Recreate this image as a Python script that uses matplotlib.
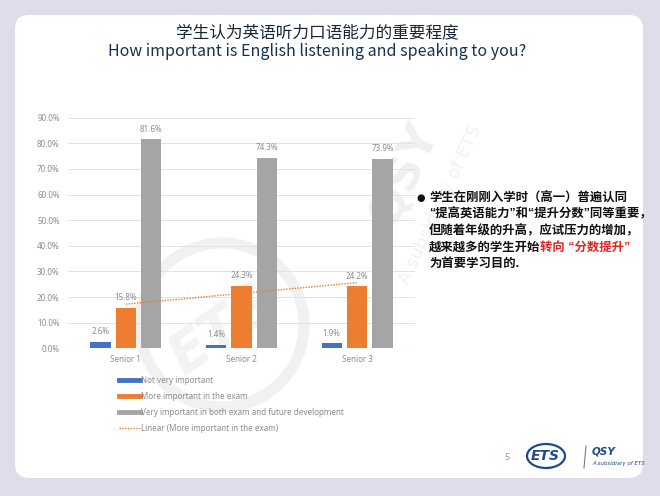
import numpy as np
import matplotlib
matplotlib.use("Agg")
import matplotlib.pyplot as plt
from matplotlib.patches import FancyBboxPatch, Ellipse, Circle
from matplotlib.lines import Line2D

plt.rcParams['font.family'] = ['Noto Sans CJK SC', 'DejaVu Sans']

# ---------------- data ----------------
categories = ["Senior 1", "Senior 2", "Senior 3"]
not_very_important = [0.026, 0.014, 0.019]
more_important_exam = [0.158, 0.243, 0.242]
very_important_both = [0.816, 0.743, 0.739]
series_names = ["Not very important",
                "More important in the exam",
                "Very important in both exam and future development"]
trend_name = "Linear (More important in the exam)"
yticks = [0.0, 0.1, 0.2, 0.3, 0.4, 0.5, 0.6, 0.7, 0.8, 0.9]

title_cn = "学生认为英语听力口语能力的重要程度"
title_en = "How important is English listening and speaking to you?"
note_lines = ["学生在刚刚入学时（高一）普遍认同",
              "“提高英语能力”和“提升分数”同等重要，",
              "但随着年级的升高，应试压力的增加，",
              "越来越多的学生开始",
              "为首要学习目的."]
note_red = "转向 “分数提升”"

colors = ["#4472C4", "#ED7D31", "#A5A5A5"]
label_color = "#8c8c8c"

W, H = 660, 496
fig = plt.figure(figsize=(W / 100, H / 100), dpi=100)
fig.patch.set_facecolor("#dedde9")

def px(x, y):
    return x / W, 1 - y / H

# card
card = FancyBboxPatch((0.15, 0.18), 6.28, 4.63,
                      boxstyle="round,pad=0,rounding_size=0.14",
                      transform=fig.dpi_scale_trans,
                      facecolor="white", edgecolor="none", zorder=-5)
fig.patches.append(card)

# faint watermark
ring = Circle((2.22, 4.96 - 3.25), 0.82, transform=fig.dpi_scale_trans,
              facecolor="none", edgecolor="#f1f1f1", lw=8, zorder=-4)
fig.patches.append(ring)
fig.text(*px(222, 330), "ETS", ha="center", va="center", fontsize=40,
         color="#f3f3f3", weight="bold", style="italic", rotation=35,
         family=["DejaVu Sans"], zorder=-4)
fig.text(*px(405, 175), "QSY", ha="center", va="center", fontsize=34,
         color="#f0f0f0", weight="bold", rotation=65,
         family=["DejaVu Sans"], zorder=-4)
fig.text(*px(440, 205), "A subsidiary of ETS", ha="center", va="center",
         fontsize=13, color="#f2f2f2", rotation=65, family=["DejaVu Sans"],
         zorder=-4)

# titles
fig.text(*px(317, 33), title_cn, ha="center", va="center",
         fontsize=12, color="#1a2536")
fig.text(*px(317, 52), title_en, ha="center", va="center",
         fontsize=11.5, color="#163250")

# axes
ax = fig.add_axes([68 / W, (H - 348.3) / H, 347 / W, 230.6 / H])
ax.set_facecolor("none")
x = np.arange(len(categories))
bw = 0.175
off = 0.22
series = [not_very_important, more_important_exam, very_important_both]
for i, (vals, c, name) in enumerate(zip(series, colors, series_names)):
    xs = x + (i - 1) * off
    ax.bar(xs, vals, width=bw, color=c, zorder=3, label=name)
    for xi, v in zip(xs, vals):
        ax.annotate(f"{v:.1%}", (xi, v), xytext=(0, 4), textcoords="offset points",
                    ha="center", va="bottom", fontsize=5.8, color=label_color,
                    family=["Noto Sans", "DejaVu Sans"])

# linear trendline of the exam series
coef = np.polyfit(x, more_important_exam, 1)
ax.plot(x, np.polyval(coef, x), linestyle=(0, (1, 1)), color=colors[1],
        lw=1.0, zorder=4)

ax.set_xlim(-0.5, 2.5)
ax.set_ylim(0, 0.9)
ax.set_yticks(yticks)
ax.set_yticklabels([f"{t:.1%}" for t in yticks])
ax.set_xticks(x)
ax.set_xticklabels(categories)
for s in ax.spines.values():
    s.set_visible(False)
ax.grid(axis="y", color="#e2e2e2", lw=0.7, zorder=0)
ax.axhline(0, color="#d0d0d0", lw=0.8, zorder=2)
ax.tick_params(axis="both", length=0, labelsize=5.8, colors=label_color)
ax.tick_params(axis="y", pad=6)
ax.tick_params(axis="x", pad=5)
for lab in ax.get_xticklabels() + ax.get_yticklabels():
    lab.set_family(["Noto Sans", "DejaVu Sans"])

# legend
handles = [Line2D([], [], color=c, lw=3.5) for c in colors]
handles.append(Line2D([], [], color=colors[1], lw=1.0, linestyle=(0, (1, 1))))
leg = fig.legend(handles, series_names + [trend_name],
                 loc="upper left", bbox_to_anchor=px(112, 369),
                 frameon=False, handlelength=2.6,
                 handletextpad=0.15, labelspacing=0.85,
                 prop={"family": ["Noto Sans", "DejaVu Sans"], "size": 5.8})
for t in leg.get_texts():
    t.set_color(label_color)

# note text on the right
fig.text(*px(421, 198), "●", ha="center", va="center", fontsize=7,
         color="#111111", family=["DejaVu Sans"])
note_font = ["Liberation Sans", "Noto Sans CJK SC"]
y0, dy = 198, 16.5
txts = []
for k, line in enumerate(note_lines):
    t = fig.text(*px(429, y0 + k * dy), line, ha="left", va="center",
                 fontsize=8.9, color="#111111", weight="bold", family=note_font)
    txts.append(t)
ax.annotate(note_red, xy=(1, 0.5), xycoords=txts[3], ha="left", va="center",
            fontsize=8.9, color="#e8231f", weight="bold", family=note_font,
            annotation_clip=False)

# footer
fig.text(*px(507, 457), "5", ha="center", va="center", fontsize=6.5,
         color="#8799b3", family=["Noto Sans"])
ell = Ellipse(px(546, 456), 38 / W, 24 / H, transform=fig.transFigure,
              facecolor="none", edgecolor="#1f4a8a", lw=1.6)
fig.patches.append(ell)
fig.text(*px(545, 456), "ETS", ha="center", va="center", fontsize=10,
         color="#1f4a8a", weight="bold", style="italic", family=["DejaVu Sans"])
fig.lines.append(Line2D([586 / W, 584 / W], [1 - 446 / H, 1 - 468 / H],
                        transform=fig.transFigure, color="#6a7f9e", lw=0.8))
fig.text(*px(592, 452), "QSY", ha="left", va="center", fontsize=7.5,
         color="#1f4a8a", weight="bold", style="italic", family=["DejaVu Sans"])
fig.text(*px(592, 463), "A subsidiary of ETS", ha="left", va="center", fontsize=4,
         color="#1f4a8a", style="italic", family=["DejaVu Sans"])

fig.savefig("out.png", dpi=100, facecolor=fig.get_facecolor())
